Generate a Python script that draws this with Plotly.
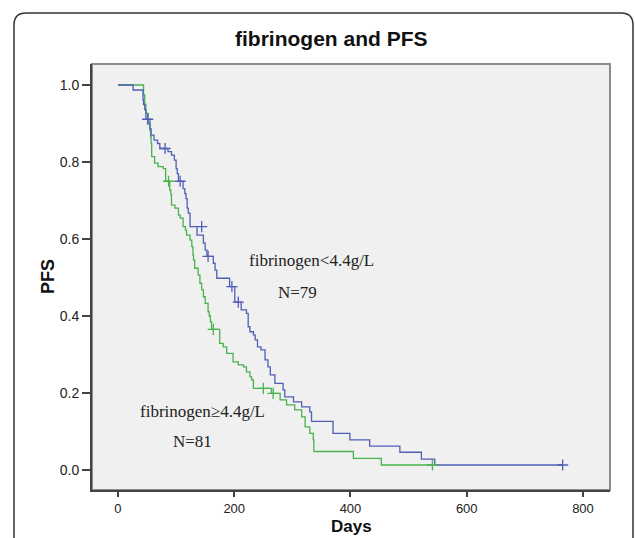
import plotly.graph_objects as go

# fibrinogen < 4.4 g/L (N=79) -- blue
blue_t = [0, 26, 43, 44, 46, 48, 55, 57, 62, 68, 72, 86, 92, 97, 100, 102, 104, 112, 115, 117, 119, 121, 124,
          136, 147, 150, 153, 164, 167, 170, 192, 201, 212, 221, 224, 227, 233, 236, 240, 246, 253, 258, 262,
          270, 284, 287, 302, 316, 330, 333, 370, 399, 433, 485, 522, 545, 765]
blue_s = [1.0, 0.987, 0.962, 0.949, 0.936, 0.911, 0.886, 0.870, 0.857, 0.848, 0.835, 0.827, 0.818, 0.805, 0.783,
          0.770, 0.750, 0.731, 0.718, 0.705, 0.680, 0.667, 0.632, 0.610, 0.589, 0.571, 0.555, 0.537, 0.519,
          0.498, 0.476, 0.436, 0.416, 0.407, 0.372, 0.359, 0.351, 0.338, 0.320, 0.312, 0.286, 0.268, 0.247,
          0.225, 0.208, 0.190, 0.177, 0.164, 0.151, 0.126, 0.095, 0.078, 0.062, 0.046, 0.028, 0.013, 0.013]
blue_cens_t = [51, 81, 107, 144, 155, 196, 207, 765]
blue_cens_s = [0.911, 0.835, 0.750, 0.632, 0.555, 0.476, 0.436, 0.013]

# fibrinogen >= 4.4 g/L (N=81) -- green
green_t = [0, 44, 46, 48, 52, 55, 56, 57, 58, 63, 69, 78, 82, 89, 91, 92, 98, 104, 107, 112, 116, 118, 124, 127,
           129, 130, 132, 138, 141, 144, 147, 150, 155, 157, 159, 161, 175, 181, 187, 198, 207, 216, 221, 227,
           230, 233, 264, 279, 290, 304, 316, 322, 330, 336, 337, 405, 453, 541]
green_s = [1.0, 0.975, 0.950, 0.926, 0.900, 0.883, 0.866, 0.848, 0.814, 0.797, 0.788, 0.783, 0.750, 0.727, 0.715,
           0.688, 0.680, 0.662, 0.654, 0.632, 0.623, 0.610, 0.597, 0.580, 0.558, 0.545, 0.524, 0.506, 0.485,
           0.468, 0.450, 0.433, 0.411, 0.400, 0.385, 0.365, 0.329, 0.320, 0.303, 0.281, 0.273, 0.268, 0.255,
           0.242, 0.234, 0.212, 0.199, 0.182, 0.169, 0.156, 0.138, 0.112, 0.095, 0.078, 0.048, 0.030, 0.013, 0.013]
green_cens_t = [87, 164, 250, 267, 541]
green_cens_s = [0.750, 0.365, 0.212, 0.199, 0.013]

x_ticks = [0, 200, 400, 600, 800]
y_ticks = [0.0, 0.2, 0.4, 0.6, 0.8, 1.0]
y_tick_labels = ["0.0", "0.2", "0.4", "0.6", "0.8", "1.0"]

BLUE = "#4F5FB8"
GREEN = "#48B24C"

fig = go.Figure()
fig.add_trace(go.Scatter(x=green_t, y=green_s, mode="lines", line=dict(color=GREEN, width=1.3, shape="hv"),
                         hoverinfo="skip", showlegend=False))
fig.add_trace(go.Scatter(x=blue_t, y=blue_s, mode="lines", line=dict(color=BLUE, width=1.3, shape="hv"),
                         hoverinfo="skip", showlegend=False))
fig.add_trace(go.Scatter(x=green_cens_t, y=green_cens_s, mode="markers",
                         marker=dict(symbol="cross-thin", size=8, line=dict(color=GREEN, width=1.3)),
                         hoverinfo="skip", showlegend=False))
fig.add_trace(go.Scatter(x=blue_cens_t, y=blue_cens_s, mode="markers",
                         marker=dict(symbol="cross-thin", size=8, line=dict(color=BLUE, width=1.3)),
                         hoverinfo="skip", showlegend=False))

L, R, T, B = 92, 25, 64, 48
W, H = 635, 538
pw, ph = W - L - R, H - T - B

def px(x):
    return (x - L) / pw

def py(y):
    return (H - B - y) / ph

# outer rounded frame
fl, fr, ft, fb = px(14), px(633), py(13), py(600)
rx, ry = 12 / pw, 12 / ph
frame_path = (f"M {fl},{fb} L {fl},{ft - ry} Q {fl},{ft} {fl + rx},{ft} "
              f"L {fr - rx},{ft} Q {fr},{ft} {fr},{ft - ry} L {fr},{fb}")

shapes = [
    dict(type="path", path=frame_path, xref="paper", yref="paper", line=dict(color="#333333", width=1.5)),
    dict(type="rect", xref="paper", yref="paper", x0=0, x1=1, y0=0, y1=1,
         line=dict(color="#8C8C8C", width=2), layer="below"),
]

font_sans = "Liberation Sans, Arial, sans-serif"
font_serif = "Liberation Serif, Times New Roman, serif"

annotations = [
    dict(text="<b>fibrinogen and PFS</b>", xref="paper", yref="paper", x=px(331), y=py(38),
         showarrow=False, xanchor="center", yanchor="middle", font=dict(family=font_sans, size=21, color="#111")),
    dict(text="<b>PFS</b>", xref="paper", yref="paper", x=px(48), y=0.5, textangle=-90,
         showarrow=False, xanchor="center", yanchor="middle", font=dict(family=font_sans, size=18, color="#111")),
    dict(text="<b>Days</b>", xref="paper", yref="paper", x=0.5, y=py(538),
         showarrow=False, xanchor="center", yanchor="bottom", font=dict(family=font_sans, size=17, color="#111")),
    dict(text="fibrinogen&lt;4.4g/L", x=333, y=0.545, showarrow=False, xanchor="center", yanchor="middle",
         font=dict(family=font_serif, size=17, color="#222")),
    dict(text="N=79", x=308, y=0.462, showarrow=False, xanchor="center", yanchor="middle",
         font=dict(family=font_serif, size=17, color="#222")),
    dict(text="fibrinogen≥4.4g/L", x=146, y=0.153, showarrow=False, xanchor="center", yanchor="middle",
         font=dict(family=font_serif, size=17, color="#222")),
    dict(text="N=81", x=129, y=0.075, showarrow=False, xanchor="center", yanchor="middle",
         font=dict(family=font_serif, size=17, color="#222")),
]

fig.update_layout(
    width=W, height=H,
    margin=dict(l=L, r=R, t=T, b=B, pad=0),
    paper_bgcolor="white",
    plot_bgcolor="#F0F0F0",
    shapes=shapes,
    annotations=annotations,
    xaxis=dict(range=[-44.7, 846.5], tickvals=x_ticks, ticks="outside", ticklen=5, tickwidth=1.5,
               tickcolor="#444", showline=True, linecolor="#444", linewidth=2, showgrid=False, zeroline=False,
               tickfont=dict(family=font_sans, size=13, color="#222")),
    yaxis=dict(range=[-0.052, 1.0545], tickvals=y_ticks, ticktext=y_tick_labels, ticks="outside", ticklen=8,
               tickwidth=1.5, tickcolor="#444", showline=True, linecolor="#444", linewidth=2, showgrid=False,
               zeroline=False, tickfont=dict(family=font_sans, size=14, color="#222")),
)

fig.write_html("out.html", config={"displayModeBar": False},
               post_script="document.body.style.margin='0';document.body.style.padding='0';")
